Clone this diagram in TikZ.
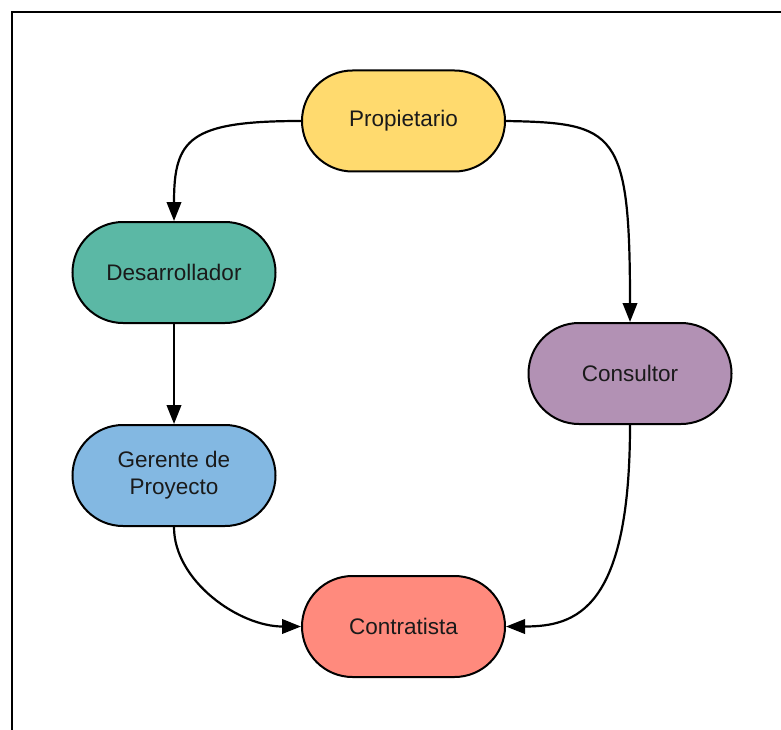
\documentclass[tikz,border=0pt]{standalone}
\usepackage{fontspec}
\setmainfont{Liberation Sans}
\usetikzlibrary{arrows.meta}

\definecolor{cYellow}{HTML}{FFDA6E}
\definecolor{cGreen}{HTML}{5BB8A5}
\definecolor{cPurple}{HTML}{B291B4}
\definecolor{cBlue}{HTML}{83B8E2}
\definecolor{cRed}{HTML}{FF8A7D}
\definecolor{cText}{HTML}{1A1A1A}

\tikzset{
  pill/.style={draw=black, line width=2pt, rectangle, rounded corners=50.5pt,
    minimum width=203pt, minimum height=101pt, inner sep=0pt, align=center,
    text=cText, font=\fontsize{22.5}{27}\selectfont},
  link/.style={draw=black, line width=2.2pt,
    -{Triangle[length=19pt,width=14.5pt]}},
  frame/.style={draw=black, line width=2.8pt}
}

\begin{document}
\begin{tikzpicture}[x=1pt, y=-1pt]
  \useasboundingbox (0,0) rectangle (781,730);

  % outer frame (only its top and left sides fall inside the page)
  \coordinate (fTR) at (781,12);
  \coordinate (fTL) at (12,12);
  \coordinate (fBL) at (12,730);
  \draw[frame] (fTR) -- (fTL) -- (fBL);

  % roles
  \node[pill, fill=cYellow] (prop) at (403.5,121) {Propietario};
  \node[pill, fill=cGreen]  (desa) at (174,272.5) {Desarrollador};
  \node[pill, fill=cPurple] (cons) at (630,373.5) {Consultor};
  \node[pill, fill=cBlue]   (gere) at (174,475.5) {Gerente de\\Proyecto};
  \node[pill, fill=cRed]    (cont) at (403.5,626.5) {Contratista};

  % relations
  \draw[link] (prop.west) .. controls ([xshift=-112pt]prop.west) and ([yshift=82pt]desa.north) .. (desa.north);
  \draw[link] (prop.east) .. controls ([xshift=110pt,yshift=-2pt]prop.east) and ([yshift=192pt]cons.north) .. (cons.north);
  \draw[link] (desa.south) -- (gere.north);
  \draw[link] (gere.south) .. controls ([yshift=-54pt]gere.south) and ([xshift=-62pt]cont.west) .. (cont.west);
  \draw[link] (cons.south) .. controls ([yshift=-185pt]cons.south) and ([xshift=70pt]cont.east) .. (cont.east);
\end{tikzpicture}
\end{document}
